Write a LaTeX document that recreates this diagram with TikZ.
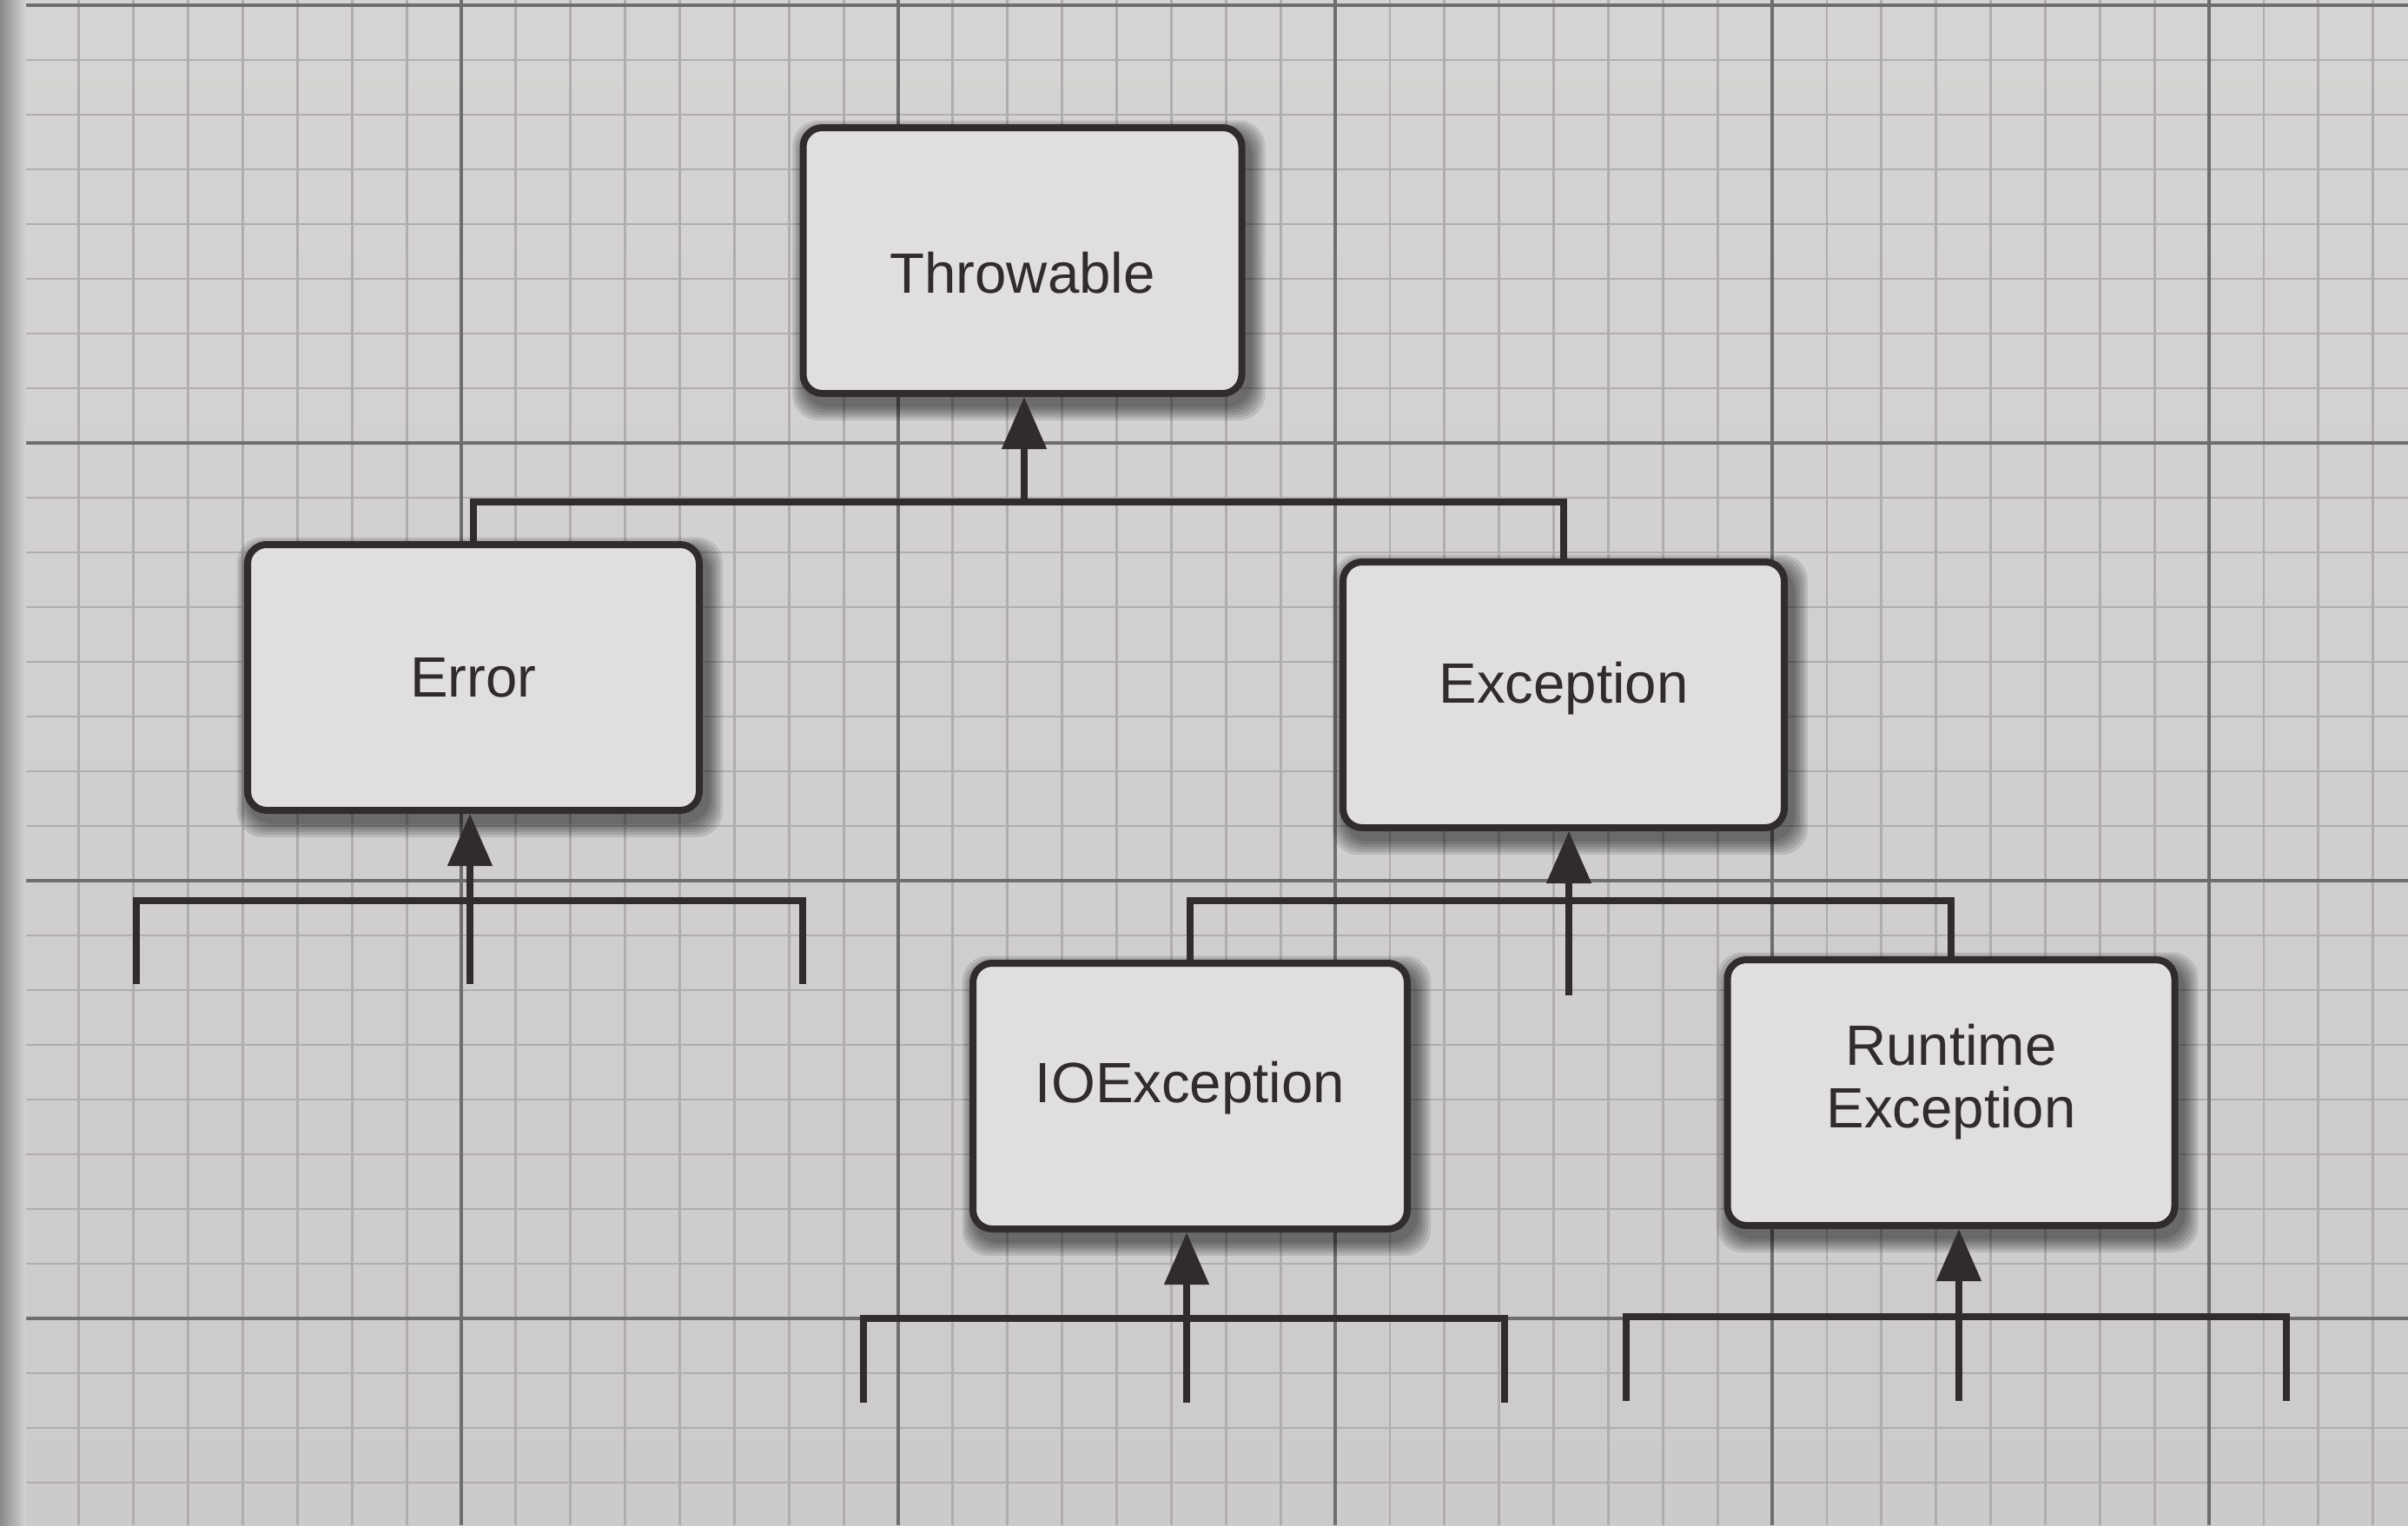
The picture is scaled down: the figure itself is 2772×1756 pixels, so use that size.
\documentclass[tikz,border=0pt]{standalone}
\usepackage{fontspec}
\setmainfont{Liberation Sans}
\usetikzlibrary{arrows.meta}
\definecolor{bgtop}{RGB}{214,212,210}
\definecolor{bgbot}{RGB}{205,203,201}
\definecolor{edge}{RGB}{140,138,137}
\definecolor{gridmin}{RGB}{176,173,173}
\definecolor{gridmaj}{RGB}{112,109,110}
\definecolor{boxfill}{RGB}{224,223,221}
\definecolor{ink}{RGB}{48,43,46}
\pgfdeclarelayer{gridlayer}
\pgfdeclarelayer{shadowlayer}
\pgfsetlayers{gridlayer,shadowlayer,main}
\newcommand{\shiftlabel}[2]{\raisebox{#1}[\height][\depth]{#2}}
\tikzset{
  classbox/.style={draw=ink, fill=boxfill, line width=0.8mm, rounded corners=2.2mm,
    minimum height=30.6mm, inner sep=0pt, align=center, text=ink,
    font=\fontsize{18.6}{20.5}\selectfont},
  link/.style={draw=ink, line width=0.8mm},
  inherit/.style={link, -{Triangle[length=6mm,width=5mm]}},
  gridminor/.style={draw=gridmin, line width=0.28mm},
  gridmajor/.style={draw=gridmaj, line width=0.45mm},
  boxshade/.style={fill=black, opacity=0.1, rounded corners=3mm},
}
\begin{document}
\begin{tikzpicture}[x=0.1mm,y=-0.1mm]
\useasboundingbox (0,0) rectangle (2772,1756);
\begin{pgfonlayer}{gridlayer}
  \shade[top color=bgtop, bottom color=bgbot] (0,0) rectangle (2772,1756);
  \foreach \i in {0,...,43} \draw[gridminor] ({28+62.875*\i},0) -- ({28+62.875*\i},1756);
  \foreach \j in {0,...,27} \draw[gridminor] (0,{6+63*\j}) -- (2772,{6+63*\j});
  \foreach \i in {0,8,...,40} \draw[gridmajor] ({28+62.875*\i},0) -- ({28+62.875*\i},1756);
  \foreach \j in {0,8,16,24} \draw[gridmajor] (0,{6+63*\j}) -- (2772,{6+63*\j});
  \shade[left color=edge, right color=bgtop] (0,0) rectangle (30,1756);
\end{pgfonlayer}

\node[classbox, minimum width=50.5mm] (throwable) at (1177,300) {\shiftlabel{-1.4mm}{Throwable}};
\node[classbox, minimum width=52mm] (error) at (545,780) {Error};
\node[classbox, minimum width=50.8mm] (exception) at (1800,800) {\shiftlabel{0.7mm}{Exception}};
\node[classbox, minimum width=50mm] (io) at (1370,1262) {\shiftlabel{0.9mm}{IOException}};
\node[classbox, minimum width=51.5mm] (rt) at (2246,1258) {\shiftlabel{1mm}{\begin{tabular}{@{}c@{}}Runtime\\Exception\end{tabular}}};

\begin{pgfonlayer}{shadowlayer}
  \foreach \n in {throwable,error,exception,io,rt}{
    \foreach \k in {0,...,5}{
      \fill[boxshade] ([shift={({4-2.5*\k},{8-2.5*\k})}]\n.north west)
        rectangle ([shift={({8+3*\k},{12+3*\k})}]\n.south east);
    }
  }
\end{pgfonlayer}

% Throwable <- Error, Exception
\coordinate (tbus) at (1179,578);
\draw[inherit] (tbus) -- (tbus |- throwable.south);
\draw[link] (error.north) |- (tbus) -| (exception.north);

% Error <- subclasses
\coordinate (ebus) at (541,1037);
\coordinate (eL) at (157,1133);
\coordinate (eR) at (924,1133);
\coordinate (eS) at (541,1133);
\draw[link] (eL) |- (ebus) -| (eR);
\draw[inherit] (eS) -- (eS |- error.south);

% Exception <- IOException, RuntimeException
\coordinate (xbus) at (1806,1037);
\coordinate (xS) at (1806,1146);
\draw[link] (io.north) |- (xbus) -| (rt.north);
\draw[inherit] (xS) -- (xS |- exception.south);

% IOException <- subclasses
\coordinate (ibus) at (1366,1518);
\coordinate (iL) at (994,1615);
\coordinate (iR) at (1732,1615);
\coordinate (iS) at (1366,1615);
\draw[link] (iL) |- (ibus) -| (iR);
\draw[inherit] (iS) -- (iS |- io.south);

% RuntimeException <- subclasses
\coordinate (rbus) at (2255,1516);
\coordinate (rL) at (1872,1613);
\coordinate (rR) at (2632,1613);
\coordinate (rS) at (2255,1613);
\draw[link] (rL) |- (rbus) -| (rR);
\draw[inherit] (rS) -- (rS |- rt.south);
\end{tikzpicture}
\end{document}
